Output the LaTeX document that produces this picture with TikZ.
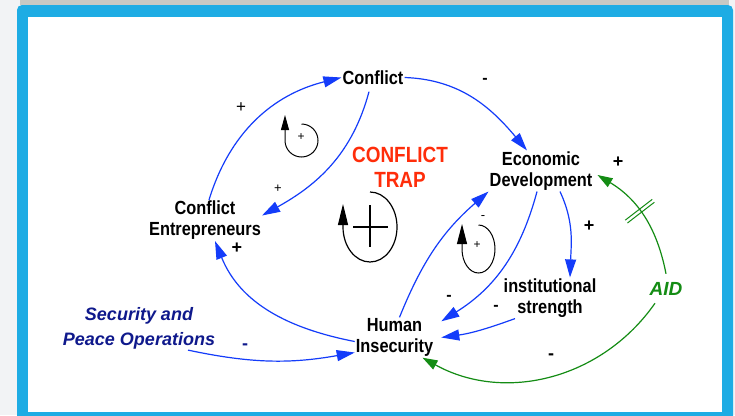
\documentclass[tikz,border=0pt]{standalone}
\usepackage{fontspec}
\setmainfont{Liberation Sans}
\newfontfamily\narrowsans{Liberation Sans}[FakeStretch=0.86]
\usepackage{tikz}
\usetikzlibrary{arrows.meta}
\usetikzlibrary{decorations.markings}
\definecolor{linkblue}{RGB}{20,60,250}
\definecolor{aidgreen}{RGB}{20,140,20}
\definecolor{trapred}{RGB}{255,45,10}
\definecolor{policynavy}{RGB}{15,25,140}
\definecolor{frameblue}{RGB}{30,172,228}
\definecolor{pagegrey}{RGB}{242,243,245}
\definecolor{bargrey}{RGB}{200,201,196}
\tikzset{
	align=center,
	var/.style={
		inner sep=1pt,
		font=\narrowsans\bfseries\fontsize{19}{21}\selectfont,
	},
	policy/.style={
		inner sep=1pt,
		text=policynavy,
		font=\bfseries\itshape\fontsize{18}{25}\selectfont,
	},
	aidvar/.style={
		inner sep=8pt,
		text=aidgreen,
		font=\bfseries\itshape\fontsize{19}{21}\selectfont,
	},
	trap/.style={
		inner sep=0pt,
		text=trapred,
		font=\narrowsans\bfseries\fontsize{22}{25}\selectfont,
	},
	sign/.style={
		inner sep=0pt,
		font=\bfseries\fontsize{18}{18}\selectfont,
	},
	thinsign/.style={
		inner sep=0pt,
		font=\fontsize{13}{13}\selectfont,
	},
	link/.style={
		draw=linkblue,
		line width=1.2pt,
		-{Triangle[length=18pt,width=11pt]}
	},
	aidlink/.style={
		draw=aidgreen,
		line width=1.2pt,
		-{Triangle[length=15pt,width=10pt]}
	},
	delay/.style={
		postaction={decorate},
		decoration={markings,
			mark=at position 0.55 with {
				\draw[-, line width=1pt] (-1.8pt,-17pt) -- (-1.8pt,17pt) (1.8pt,-17pt) -- (1.8pt,17pt);
			}
		}
	},
	loopline/.style={
		draw=black,
		line width=1pt,
		-{Triangle[length=15pt,width=8pt]}
	},
}

\begin{document}
\begin{tikzpicture}[x=1pt,y=1pt]
		\clip (0,0) rectangle (735,-415);
		\fill[pagegrey] (0,0) rectangle (735,-415);
		\fill[bargrey] (20,0) rectangle (729,-4.5);
		\fill[frameblue, rounded corners=5pt] (17,-5) rectangle (733,-440);
		\fill[white] (28,-16.7) rectangle (722,-412);

		\node[var]      (con)  at (373,-77.5)   {Conflict};
		\node[var]      (ent)  at (205,-220.5)  {Conflict\\Entrepreneurs};
		\node[var]      (eco)  at (541,-171)    {Economic\\Development};
		\node[var]      (inst) at (550,-298)    {institutional\\strength};
		\node[var]      (hum)  at (394.5,-337.5) {Human\\Insecurity};
		\node[aidvar]   (aid)  at (666,-288.5)  {AID};
		\node[policy]   (spo)  at (139,-328)    {Security and\\Peace Operations};
		\node[trap]     (trp)  at (400,-167)    {CONFLICT\\TRAP};

		\draw[link]     ([xshift=4pt]ent.north) to[out=73,in=194] (con.west);
		\draw[link]     ([xshift=-4pt,yshift=-6pt]con.south) to[out=-105,in=29] (ent.5);
		\draw[link]     (con.east) to[out=-2,in=130] ([xshift=-14pt]eco.north);
		\draw[link]     ([xshift=5pt]hum.north) to[out=68,in=221] (eco.south west);
		\draw[link]     ([xshift=-4pt]eco.south) to[out=-105,in=32] ([xshift=7pt,yshift=-4pt]hum.north east);
		\draw[link]     ([xshift=19pt]eco.south) to[out=-65,in=88] ([xshift=20pt]inst.north);
		\draw[link]     ([xshift=-35pt]inst.south) to[out=200,in=8] ([xshift=7pt]hum.east);
		\draw[link]     ([yshift=-4pt]hum.west) to[out=169,in=-68] ([xshift=10pt]ent.south);
		\draw[link]     ([xshift=49pt]spo.south) to[out=-12,in=190] ([yshift=-15pt]hum.west);
		\draw[aidlink, delay] (aid.north) to[out=101,in=-31] ([xshift=4pt,yshift=-4pt]eco.east);
		\draw[aidlink]  ([xshift=-11pt]aid.south) to[out=-125,in=-29] ([xshift=28pt]hum.south);

		\node[thinsign, font=\fontsize{17}{17}\selectfont] (p-ent-con) at (241,-108) {+};
		\node[thinsign] (p-con-ent) at (278,-189) {+};
		\node[sign, font=\bfseries\fontsize{16}{16}\selectfont] (m-con-eco) at (485,-81) {-};
		\node[thinsign] (m-hum-eco) at (483,-217.5) {-};
		\node[sign]     (p-eco-inst) at (589,-226) {+};
		\node[sign, font=\bfseries\fontsize{16}{16}\selectfont] (m-eco-hum) at (449,-298) {-};
		\node[sign, font=\bfseries\fontsize{16}{16}\selectfont] (m-inst-hum) at (496,-308) {-};
		\node[sign]     (p-aid-eco) at (618,-162) {+};
		\node[sign]     (m-aid-hum) at (551,-357) {-};
		\node[sign]     (p-hum-ent) at (237,-248) {+};
		\node[sign, text=policynavy] (m-spo-hum) at (245,-347) {-};

		\draw[loopline] (301.5,-124) arc[start angle=90,end angle=-180,radius=16.5] -- (285,-115);
		\node[thinsign, font=\fontsize{12}{12}\selectfont] (loop1) at (301,-137) {+};
		\draw[loopline, -{Triangle[length=20pt,width=10pt]}] (478.5,-225) arc[start angle=90,end angle=-180,x radius=16.5,y radius=24] -- (462,-224);
		\node[thinsign, font=\fontsize{12}{12}\selectfont] (loop2) at (477,-245) {+};
		\draw[loopline, line width=1.2pt, -{Triangle[length=21pt,width=10pt]}] (370,-192) arc[start angle=90,end angle=-180,x radius=27,y radius=35] -- (343,-204);
		\draw[line width=2pt] (353,-227) -- (388,-227) (370,-205) -- (370,-247);
	\end{tikzpicture}
\end{document}
